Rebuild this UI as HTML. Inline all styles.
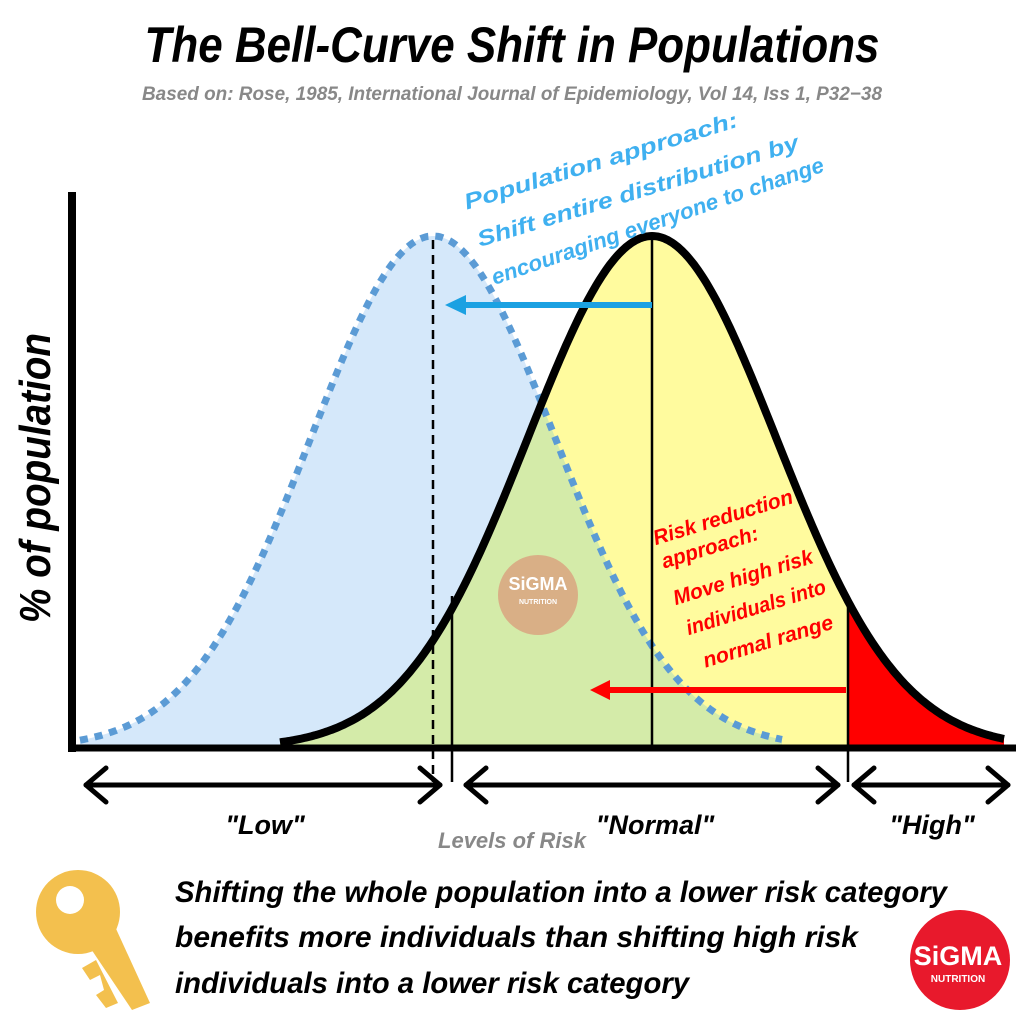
<!DOCTYPE html>
<html><head><meta charset="utf-8"><style>
html,body{margin:0;padding:0;background:#fff}
svg{display:block}
.c{font-family:"Liberation Sans Narrow","Liberation Sans",sans-serif;font-style:italic;font-weight:bold}
</style></head><body>
<svg id="s" width="1024" height="1024" viewBox="0 0 1024 1024">
<defs>
<clipPath id="yc"><path id="ycp"/></clipPath>
<clipPath id="rc"><rect x="848" y="0" width="200" height="760"/></clipPath>
</defs>
<text class="c" x="512" y="62" text-anchor="middle" font-size="50" textLength="735" lengthAdjust="spacingAndGlyphs">The Bell-Curve Shift in Populations</text>
<text class="c" x="512" y="100" text-anchor="middle" font-size="19" fill="#888" textLength="740" lengthAdjust="spacingAndGlyphs">Based on: Rose, 1985, International Journal of Epidemiology, Vol 14, Iss 1, P32−38</text>
<path id="yf" fill="#fffb9e"/>
<path id="bf" fill="#d5e8fa"/>
<path id="gf" fill="#d4eba9" clip-path="url(#yc)"/>
<path id="rf" fill="#ff0000" clip-path="url(#rc)"/>
<path id="bl" fill="none" stroke="#5b9bd5" stroke-width="7" stroke-dasharray="8,7"/>
<path id="yl" fill="none" stroke="#000" stroke-width="8"/>
<line x1="652" y1="236" x2="652" y2="748" stroke="#000" stroke-width="2.5"/>
<line x1="848" y1="598" x2="848" y2="782" stroke="#000" stroke-width="2.5"/>
<line x1="452" y1="596" x2="452" y2="782" stroke="#000" stroke-width="2.5"/>
<line x1="433" y1="240" x2="433" y2="782" stroke="#000" stroke-width="2.5" stroke-dasharray="9,6"/>
<line x1="72" y1="192" x2="72" y2="752" stroke="#000" stroke-width="8"/>
<line x1="68" y1="748" x2="1016" y2="748" stroke="#000" stroke-width="7"/>
<line x1="652" y1="305" x2="462" y2="305" stroke="#1ba1e2" stroke-width="6"/>
<path d="M445,305 L466,295 L466,315 Z" fill="#1ba1e2"/>
<line x1="846" y1="690" x2="606" y2="690" stroke="#f00" stroke-width="6"/>
<path d="M590,690 L610,680 L610,700 Z" fill="#f00"/>
<g stroke="#000" stroke-width="5" fill="none" stroke-linecap="round" stroke-linejoin="round">
<line x1="86" y1="785" x2="440" y2="785"/><path d="M106,768 L86,785 L106,802 M420,768 L440,785 L420,802"/>
<line x1="466" y1="785" x2="838" y2="785"/><path d="M486,768 L466,785 L486,802 M818,768 L838,785 L818,802"/>
<line x1="854" y1="785" x2="1008" y2="785"/><path d="M874,768 L854,785 L874,802 M988,768 L1008,785 L988,802"/>
</g>
<text class="c" x="265" y="834" text-anchor="middle" font-size="27">"Low"</text>
<text class="c" x="655" y="834" text-anchor="middle" font-size="27">"Normal"</text>
<text class="c" x="932" y="834" text-anchor="middle" font-size="27">"High"</text>
<text class="c" x="512" y="848" text-anchor="middle" font-size="22" fill="#888">Levels of Risk</text>
<text class="c" transform="translate(50,478) rotate(-90)" text-anchor="middle" font-size="44" textLength="290" lengthAdjust="spacingAndGlyphs">% of population</text>
<g class="c" fill="#3fb0f0" font-size="22">
<text transform="translate(603,168) rotate(-17)" text-anchor="middle" textLength="285" lengthAdjust="spacingAndGlyphs">Population approach:</text>
<text transform="translate(640,198) rotate(-17)" text-anchor="middle" textLength="335" lengthAdjust="spacingAndGlyphs">Shift entire distribution by</text>
<text transform="translate(660,228) rotate(-19)" text-anchor="middle" textLength="350" lengthAdjust="spacingAndGlyphs">encouraging everyone to change</text>
</g>
<g class="c" fill="#f00" font-size="21">
<text transform="translate(725,524) rotate(-17)" text-anchor="middle" textLength="145" lengthAdjust="spacingAndGlyphs">Risk reduction</text>
<text transform="translate(712,554) rotate(-17)" text-anchor="middle" textLength="100" lengthAdjust="spacingAndGlyphs">approach:</text>
<text transform="translate(745,584) rotate(-17)" text-anchor="middle" textLength="145" lengthAdjust="spacingAndGlyphs">Move high risk</text>
<text transform="translate(758,614) rotate(-17)" text-anchor="middle" textLength="145" lengthAdjust="spacingAndGlyphs">individuals into</text>
<text transform="translate(770,648) rotate(-17)" text-anchor="middle" textLength="135" lengthAdjust="spacingAndGlyphs">normal range</text>
</g>
<circle cx="538" cy="595" r="40" fill="#d9a580" opacity="0.85"/>
<text x="538" y="590" text-anchor="middle" font-family="Liberation Sans" font-weight="bold" font-size="18" fill="#fff">SiGMA</text>
<text x="538" y="604" text-anchor="middle" font-family="Liberation Sans" font-weight="bold" font-size="7" fill="#fff">NUTRITION</text>
<g class="c" font-size="30">
<text x="175" y="902" textLength="772" lengthAdjust="spacingAndGlyphs">Shifting the whole population into a lower risk category</text>
<text x="175" y="947" textLength="683" lengthAdjust="spacingAndGlyphs">benefits more individuals than shifting high risk</text>
<text x="175" y="993" textLength="514" lengthAdjust="spacingAndGlyphs">individuals into a lower risk category</text>
</g>
<g>
<path d="M85,940 L132,1010 L150,1003 L112,920 Z" fill="#f3c04e"/>
<path d="M96,960 L82,968 L90,980 L100,975 L104,990 L96,995 L106,1008 L118,1003 Z" fill="#f3c04e"/>
<circle cx="78" cy="912" r="42" fill="#f3c04e"/>
<circle cx="70" cy="900" r="14" fill="#fff"/>
</g>
<circle cx="960" cy="960" r="50" fill="#e8192c"/>
<text x="958" y="965" text-anchor="middle" font-family="Liberation Sans" font-weight="bold" font-size="27" fill="#fff">SiGMA</text>
<text x="958" y="982" text-anchor="middle" font-family="Liberation Sans" font-weight="bold" font-size="10" fill="#fff">NUTRITION</text>
</svg>
<script>
function g(mu,s,a,b){var d="";for(var x=a;x<=b;x+=2){var y=748-512*Math.exp(-(x-mu)*(x-mu)/(2*s*s));d+=(x==a?"M":"L")+x+","+y.toFixed(1);}return d;}
var yd=g(652,124,280,1004), bd=g(433,122,80,782);
var $=function(i){return document.getElementById(i)};
$("yf").setAttribute("d",yd+"L1004,748L280,748Z");
$("ycp").setAttribute("d",yd+"L1004,748L280,748Z");
$("bf").setAttribute("d",bd+"L782,748L80,748Z");
$("gf").setAttribute("d",bd+"L782,748L80,748Z");
$("rf").setAttribute("d",yd+"L1004,748L280,748Z");
$("bl").setAttribute("d",bd);
$("yl").setAttribute("d",yd);
</script>
</body></html>
